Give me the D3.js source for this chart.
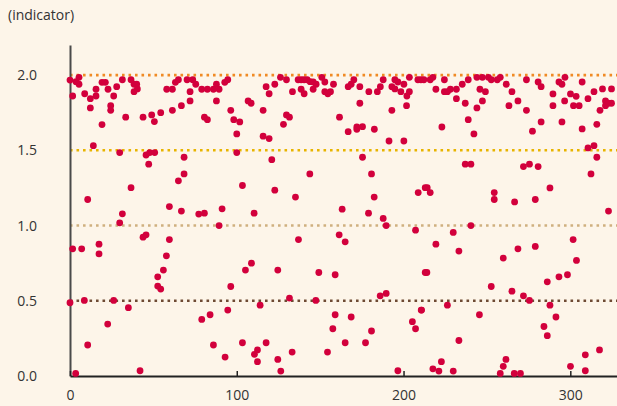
<!DOCTYPE html>
<html><head><meta charset="utf-8">
<script src="https://cdn.jsdelivr.net/npm/d3@7"></script>
<style>
html,body{margin:0;padding:0;background:#fdf5e9;}
svg{display:block;}
text{font-family:"Open Sans",Lato,sans-serif;}
</style></head>
<body><svg id="c" width="617" height="406"></svg>
<script>
const xTicks = [0, 100, 200, 300];
const yTicks = [0, 0.5, 1.0, 1.5, 2.0];
const yLabels = ["0.0", "0.5", "1.0", "1.5", "2.0"];
const refLevels = [2.0, 1.5, 1.0, 0.5];
const refColors = ["#f08a24", "#e8b400", "#cfb07f", "#6e4a33"];
const yTitle = "(indicator)";

const xs = [0,1.6,3.6,5.4,5.4,8.8,12.2,12.2,14,15.6,15.6,19.2,21.2,22.8,19.2,24.4,24.4,26.2,28,31.4,29.8,33.4,36.6,38.4,40,38.4,40.4,43.8,49,50.6,45.6,47.8,50.8,47.2,36.6,10.6,31.4,
29.8,1.6,7,17.4,17.4,43.8,45.6,0,8.6,26.2,35,22.6,10.6,3.4,42,
54.4,58,61.4,61.4,63.2,65,66.8,70.2,72,72,73.6,75.4,79,80.6,82.4,82.4,86,87.8,87.8,89.4,92.8,94.6,96.4,98.2,101.8,100,100,68.4,68.4,65,103.4,59.6,66.8,77.2,80.6,91.2,
89.4,59.6,57.8,56,52.6,52.6,54.4,96.4,105.2,94.6,84,79,86,93,103.4,
106.8,108.6,115.8,117.6,119.4,122.8,126.2,129.8,133.4,129.8,131.6,128,115.8,119.4,136.8,138.6,140.4,142.2,144,145.8,147.6,138.6,140.4,145.8,151,152.8,152.8,154.6,156.2,158,121,122.8,143.8,135.2,110.4,
137,108.8,124.6,149.2,159,131.6,147.4,114,157.6,117.6,112.4,110.6,112.4,124.6,133.2,154.4,126.4,
166.8,168.6,170.2,173.8,173.8,179.2,184.3,186.1,187.8,193,194.8,194.8,196.6,198.4,200.2,202,203.5,203.5,201.8,193,208.6,210.4,212.2,161.6,166.8,172,172,175.4,182.5,191.3,200.2,175.4,180.8,182.4,163.2,179,208.8,213,
187.8,189.6,207.2,161.4,165,186,189.6,159,168.6,180.8,165,177.2,205.3,207.2,210.6,196.6,213,
216,217.6,219.4,224.5,224.5,226.3,228.1,231.7,231.7,235.2,237,238.8,238.8,242.2,244,244,245.8,247.3,247.3,249.1,250.9,252.6,256.2,258,261.6,263.2,265,223,237,240.4,214.2,216,254.4,254.4,266.6,
240.4,229.8,219.4,233.2,259.8,214,252.6,265,210.8,226.3,245.5,233.2,222.7,217.6,221.2,229.8,261.4,259.8,258,266.4,
268.6,273.7,273.7,280.7,282.5,277.3,282.5,289.6,289.6,293.2,295,296.8,296.6,295,300.1,301.9,303.5,305.3,307.1,307.1,310.6,314.2,315.9,317.8,319.3,321.1,321.1,322.9,324.7,324.7,310.6,314.2,315.9,271.9,275.5,280.7,312.4,287.8,279,322.9,
268.6,279,301.7,303.7,286.2,293.2,298.3,271.9,275.5,287.8,291.4,284.2,286.2,317.5,309,300.1,309,270.1];

const ys = [1.967,1.861,1.956,1.985,1.939,1.876,1.843,1.782,1.531,1.906,1.861,1.952,1.952,1.906,1.671,1.797,1.766,1.861,1.923,1.969,1.485,1.720,1.969,1.939,1.939,1.890,1.908,1.720,1.735,1.691,1.469,1.485,1.485,1.408,1.252,1.173,1.078,
1.018,0.845,0.845,0.876,0.812,0.923,0.938,0.487,0.502,0.502,0.454,0.345,0.206,0.017,0.035,
1.750,1.906,1.906,1.766,1.952,1.969,1.797,1.969,1.890,1.828,1.969,1.939,1.906,1.720,1.704,1.906,1.906,1.939,1.828,1.906,1.952,1.969,1.766,1.704,1.689,1.609,1.485,1.454,1.343,1.297,1.266,1.126,1.096,1.076,1.082,1.111,
1.000,0.907,0.799,0.704,0.659,0.598,0.578,0.595,0.704,0.438,0.407,0.376,0.206,0.126,0.221,
1.828,1.813,1.766,1.923,1.876,1.939,1.985,1.969,1.890,1.735,1.720,1.673,1.594,1.578,1.969,1.969,1.969,1.969,1.956,1.954,1.939,1.906,1.876,1.906,1.985,1.954,1.890,1.876,1.890,1.939,1.438,1.235,1.343,1.189,1.082,
0.907,0.750,0.704,0.688,0.673,0.518,0.502,0.471,0.314,0.221,0.173,0.144,0.095,0.110,0.159,0.159,0.033,
1.923,1.939,1.969,1.923,1.813,1.890,1.890,1.923,1.969,1.923,1.908,1.969,1.954,1.890,1.939,1.861,1.890,1.985,1.797,1.766,1.969,1.969,1.969,1.720,1.624,1.655,1.640,1.657,1.640,1.562,1.562,1.454,1.343,1.189,1.109,1.082,1.219,1.252,
1.047,1.000,0.969,0.938,0.892,0.533,0.549,0.407,0.392,0.299,0.221,0.221,0.361,0.314,0.438,0.035,0.688,
1.969,1.985,1.906,1.969,1.890,1.890,1.906,1.906,1.843,1.939,1.813,1.969,1.704,1.609,1.985,1.782,1.906,1.985,1.828,1.890,1.985,1.969,1.969,1.985,1.939,1.797,1.890,1.655,1.408,1.408,1.252,1.219,1.219,1.173,1.157,
1.000,0.954,0.876,0.830,0.784,0.688,0.595,0.564,0.438,0.471,0.407,0.236,0.095,0.048,0.033,0.033,0.110,0.064,0.017,0.017,
1.828,1.969,1.766,1.954,1.923,1.627,1.689,1.875,1.797,1.954,1.939,1.985,1.828,1.689,1.875,1.797,1.859,1.797,1.954,1.642,1.843,1.890,1.673,1.766,1.908,1.828,1.797,1.813,1.813,1.908,1.516,1.531,1.454,1.392,1.408,1.392,1.343,1.250,1.173,1.096,
0.845,0.861,0.907,0.768,0.626,0.659,0.673,0.533,0.502,0.471,0.392,0.329,0.268,0.173,0.141,0.064,0.035,0.017];

const W = 617, H = 406;
const svg = d3.select("#c");
const x = d3.scaleLinear().domain([0, 328]).range([70, 617]);
const y = d3.scaleLinear().domain([0, 2.2]).range([376, 45]);

svg.append("rect").attr("width", W).attr("height", H).attr("fill", "#fdf5e9");

// reference lines
svg.append("g").selectAll("line").data(refLevels).join("line")
  .attr("x1", x(0)).attr("x2", 617)
  .attr("y1", d => y(d)).attr("y2", d => y(d))
  .attr("stroke", (d, i) => refColors[i])
  .attr("stroke-width", 2.6)
  .attr("stroke-dasharray", "2.6,3.9");

// y axis
const yAxis = d3.axisLeft(y).tickValues(yTicks).tickSize(0).tickPadding(33)
  .tickFormat((d, i) => yLabels[i]);
const gy = svg.append("g").attr("transform", `translate(${x(0)},0)`).call(yAxis);
gy.select(".domain").attr("stroke", "#4a4a4a").attr("stroke-width", 2);
gy.selectAll("text").attr("font-size", 14).attr("fill", "#333").attr("font-family", "'Open Sans',sans-serif");

// x axis
const xAxis = d3.axisBottom(x).tickValues(xTicks).tickSizeInner(-5).tickSizeOuter(0).tickPadding(14);
const gx = svg.append("g").attr("transform", `translate(0,${y(0)})`).call(xAxis);
gx.select(".domain").attr("stroke", "#222").attr("stroke-width", 2);
gx.selectAll(".tick line").attr("stroke", "#222").attr("stroke-width", 1.5);
gx.selectAll("text").attr("font-size", 14).attr("fill", "#333").attr("font-family", "'Open Sans',sans-serif");

// title
svg.append("text").attr("x", 8).attr("y", 20).text(yTitle)
  .attr("font-size", 14).attr("fill", "#333");

// points
const pts = xs.map((v, i) => ({x: v, y: ys[i]}));
svg.append("g").selectAll("circle").data(pts).join("circle")
  .attr("cx", d => x(d.x)).attr("cy", d => y(d.y)).attr("r", 3.4)
  .attr("fill", "#d2003c");
</script></body></html>
